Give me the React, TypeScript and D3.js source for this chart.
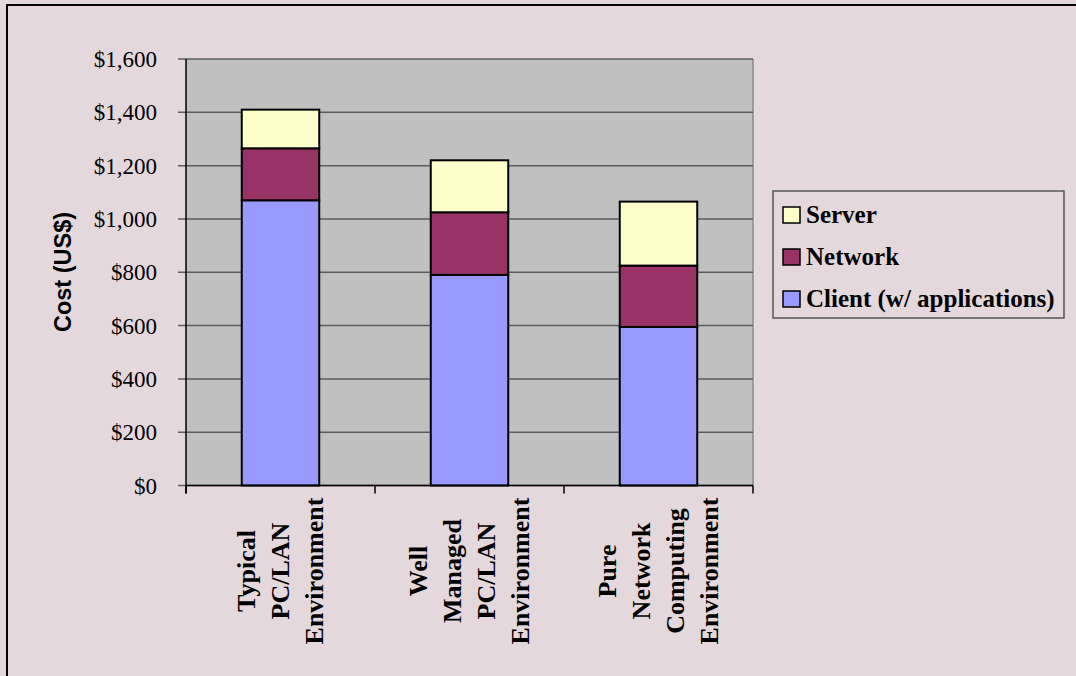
import React from 'react';
import * as d3 from 'd3';

const categories = [
  ['Typical', 'PC/LAN', 'Environment'],
  ['Well', 'Managed', 'PC/LAN', 'Environment'],
  ['Pure', 'Network', 'Computing', 'Environment']
];
const categoryKeys = ['typical', 'well', 'pure'];

const client = [1070, 790, 595];
const network = [195, 235, 230];
const server = [145, 195, 240];

const seriesNames = ['Client (w/ applications)', 'Network', 'Server'];
const seriesColors = ['#9999FF', '#993366', '#FFFFCC'];

const yTicks = [0, 200, 400, 600, 800, 1000, 1200, 1400, 1600];

const serif = '"Liberation Serif", "Times New Roman", serif';
const sans = '"Liberation Sans", Arial, sans-serif';

const App = () => {
  const plot = { left: 186, right: 753, top: 59, bottom: 485.5 };

  const xScale = d3
    .scaleBand()
    .domain(categoryKeys)
    .range([plot.left, plot.right])
    .paddingInner(0.59)
    .paddingOuter(0.295);

  const yScale = d3
    .scaleLinear()
    .domain([0, 1600])
    .range([plot.bottom, plot.top]);

  const rows = categoryKeys.map((key, i) => ({
    key,
    client: client[i],
    network: network[i],
    server: server[i]
  }));
  const stacked = d3.stack<any>().keys(['client', 'network', 'server'])(rows);

  const step = xScale.step();
  const xTicks = d3.range(4).map(i => plot.left + i * step);

  return (
    <svg
      width={1076}
      height={676}
      style={{ position: 'absolute', left: 0, top: 0, background: '#E5D8DC' }}
    >
      <rect x={0} y={0} width={1076} height={676} fill="#E5D8DC" />
      <rect x={7} y={5} width={1100} height={700} fill="none" stroke="#000" strokeWidth={2} />

      {/* plot area */}
      <rect
        x={plot.left}
        y={plot.top}
        width={plot.right - plot.left}
        height={plot.bottom - plot.top}
        fill="#C0C0C0"
      />
      <line x1={plot.right} x2={plot.right} y1={plot.top} y2={plot.bottom} stroke="#8a8a8a" strokeWidth={1.5} />

      <g className="grid">
        {yTicks.map(t => (
          <line
            key={t}
            x1={plot.left - 8}
            x2={plot.right}
            y1={yScale(t)}
            y2={yScale(t)}
            stroke="#5c5c5c"
            strokeWidth={1.5}
          />
        ))}
      </g>

      <g className="bars">
        {stacked.map((layer, si) =>
          layer.map((d, i) => (
            <rect
              key={`${si}-${i}`}
              x={xScale(categoryKeys[i])}
              y={yScale(d[1])}
              width={xScale.bandwidth()}
              height={yScale(d[0]) - yScale(d[1])}
              fill={seriesColors[si]}
              stroke="#000"
              strokeWidth={2}
            />
          ))
        )}
      </g>

      {/* axes */}
      <line x1={plot.left} x2={plot.left} y1={plot.top} y2={plot.bottom + 8} stroke="#000" strokeWidth={1.5} />
      <line x1={plot.left} x2={plot.right} y1={plot.bottom} y2={plot.bottom} stroke="#000" strokeWidth={1.5} />
      {xTicks.map((x, i) => (
        <line key={i} x1={x} x2={x} y1={plot.bottom} y2={plot.bottom + 8} stroke="#000" strokeWidth={1.5} />
      ))}

      <g className="y-labels" fontFamily={serif} fontSize={23} fill="#000">
        {yTicks.map(t => (
          <text key={t} x={157} y={yScale(t) + 8} textAnchor="end">
            {d3.format('$,')(t)}
          </text>
        ))}
      </g>

      <text
        transform="translate(71, 272) rotate(-90)"
        textAnchor="middle"
        fontFamily={sans}
        fontWeight="bold"
        fontSize={23.5}
      >
        Cost (US$)
      </text>

      <g className="x-labels" fontFamily={serif} fontWeight="bold" fontSize={26}>
        {categories.map((lines, i) => {
          const cx = xScale(categoryKeys[i])! + xScale.bandwidth() / 2;
          const spacing = 34;
          return lines.map((line, j) => {
            const x = cx + (j - (lines.length - 1) / 2) * spacing + 8;
            return (
              <text
                key={`${i}-${j}`}
                transform={`translate(${x}, 571) rotate(-90)`}
                textAnchor="middle"
              >
                {line}
              </text>
            );
          });
        })}
      </g>

      <g className="legend">
        <rect x={773} y={191} width={291} height={127} fill="none" stroke="#555" strokeWidth={1.5} />
        {[2, 1, 0].map((si, row) => (
          <g key={si} transform={`translate(783, ${207 + row * 42})`}>
            <rect x={0} y={0} width={17} height={16} fill={seriesColors[si]} stroke="#000" strokeWidth={1.5} />
            <text x={23} y={16} fontFamily={serif} fontWeight="bold" fontSize={25}>
              {seriesNames[si]}
            </text>
          </g>
        ))}
      </g>
    </svg>
  );
};

export default App;
